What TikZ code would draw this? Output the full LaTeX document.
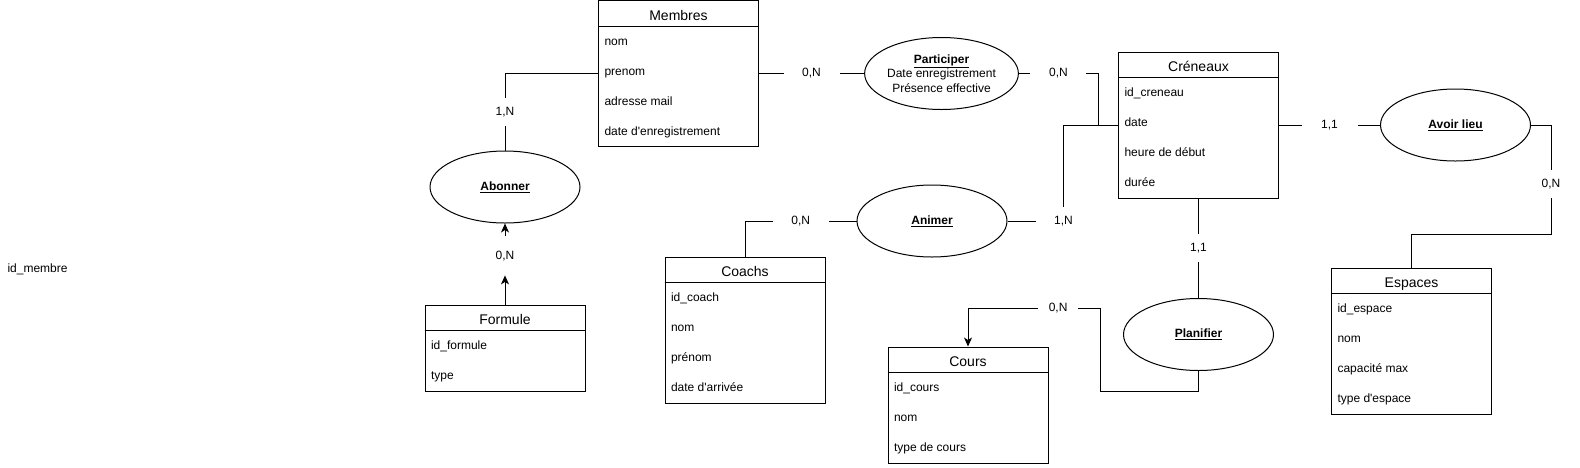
\documentclass[tikz,border=0pt]{standalone}
\usepackage{fontspec}
\setmainfont{Liberation Sans}
\usepackage{tikz}
\usetikzlibrary{shapes.geometric,arrows.meta,positioning,calc}
\tikzset{entite/.style={draw,rectangle,minimum width=160pt,inner sep=0pt},
	titre/.style={anchor=base,inner sep=0pt,font=\fontsize{14}{16}\selectfont},
	attribut/.style={anchor=base west,inner sep=0pt,font=\fontsize{12}{14}\selectfont},
	asso/.style={draw,ellipse,minimum width=150pt,minimum height=72pt,inner sep=0pt,
		align=center,font=\fontsize{12}{14.5}\selectfont},
	card/.style={fill=white,minimum width=56pt,minimum height=28pt,inner sep=0pt,
		font=\fontsize{12}{14}\selectfont},
	fleche/.style={-{Stealth[length=9pt,width=8pt,inset=2.5pt]}}}

\begin{document}
\begin{tikzpicture}
	[x=1pt,y=-1pt,line width=1pt]
	\useasboundingbox (0,0) rectangle (1580,467);

	% entites
	\node [entite,minimum height=146pt] (membres) at (678.5,73.5) {};
	\node [titre] (membresTitre) at ([yshift=-20pt]membres.north) {Membres};
	\draw ([yshift=-26pt]membres.north west) -- ([yshift=-26pt]membres.north east);
	\foreach \a [count=\i] in {nom,prenom,adresse mail,date d\textquotesingle enregistrement}
		\node [attribut] (membres\i) at ([xshift=6pt,yshift={-15pt-30pt*\i}]membres.north west) {\a};

	\node [entite,minimum height=146pt] (creneaux) at (1198.5,125) {};
	\node [titre] (creneauxTitre) at ([yshift=-20pt]creneaux.north) {Créneaux};
	\draw ([yshift=-26pt]creneaux.north west) -- ([yshift=-26pt]creneaux.north east);
	\foreach \a [count=\i] in {id\_creneau,date,heure de début,durée}
		\node [attribut] (creneaux\i) at ([xshift=6pt,yshift={-15pt-30pt*\i}]creneaux.north west) {\a};

	\node [entite,minimum height=86pt] (formule) at (505,348) {};
	\node [titre] (formuleTitre) at ([yshift=-20pt]formule.north) {Formule};
	\draw ([yshift=-26pt]formule.north west) -- ([yshift=-26pt]formule.north east);
	\foreach \a [count=\i] in {id\_formule,type}
		\node [attribut] (formule\i) at ([xshift=6pt,yshift={-15pt-30pt*\i}]formule.north west) {\a};

	\node [entite,minimum height=146pt] (coachs) at (745,330) {};
	\node [titre] (coachsTitre) at ([yshift=-20pt]coachs.north) {Coachs};
	\draw ([yshift=-26pt]coachs.north west) -- ([yshift=-26pt]coachs.north east);
	\foreach \a [count=\i] in {id\_coach,nom,prénom,date d\textquotesingle arrivée}
		\node [attribut] (coachs\i) at ([xshift=6pt,yshift={-15pt-30pt*\i}]coachs.north west) {\a};

	\node [entite,minimum height=116pt] (cours) at (968,405) {};
	\node [titre] (coursTitre) at ([yshift=-20pt]cours.north) {Cours};
	\draw ([yshift=-26pt]cours.north west) -- ([yshift=-26pt]cours.north east);
	\foreach \a [count=\i] in {id\_cours,nom,type de cours}
		\node [attribut] (cours\i) at ([xshift=6pt,yshift={-15pt-30pt*\i}]cours.north west) {\a};

	\node [entite,minimum height=146pt] (espaces) at (1411.5,341) {};
	\node [titre] (espacesTitre) at ([yshift=-20pt]espaces.north) {Espaces};
	\draw ([yshift=-26pt]espaces.north west) -- ([yshift=-26pt]espaces.north east);
	\foreach \a [count=\i] in {id\_espace,nom,capacité max,type d\textquotesingle espace}
		\node [attribut] (espaces\i) at ([xshift=6pt,yshift={-15pt-30pt*\i}]espaces.north west) {\a};

	\node [attribut] (idmembre) at (7,272) {id\_membre};

	% associations
	\node [asso] (abonner) at (505,187) {\textbf{\underline{Abonner}}};
	\node [asso] (participer) at (941.5,73.5) {\textbf{\underline{Participer}}\\Date enregistrement\\Présence effective};
	\node [asso] (animer) at (932,221) {\textbf{\underline{Animer}}};
	\node [asso] (planifier) at (1198.5,334.5) {\textbf{\underline{Planifier}}};
	\node [asso] (avoirlieu) at (1455.5,125) {\textbf{\underline{Avoir lieu}}};

	% liens
	\draw (membres.west) -| (abonner.north) node [card,pos=0.75] {1,N};
	\node [card,minimum height=38pt] (cardFormule) at ($(formule.north)!0.6!(abonner.south)$) {0,N};
	\draw [fleche] (formule.north) -- (cardFormule.south);
	\draw [fleche] (cardFormule.north) -- (abonner.south);
	\draw (membres.east) -- (participer.west) node [card,midway] {0,N};
	\draw (creneaux.west) -- ++(-20,0) |- (participer.east) node [card,pos=0.75] {0,N};
	\draw (creneaux.west) -- ++(-54.5,0) |- (animer.east) node [card,pos=0.5] {1,N};
	\draw (coachs.north) |- (animer.west) node [card,pos=0.75] {0,N};
	\draw (creneaux.south) -- (planifier.north) node [card,midway] {1,1};
	\draw [fleche] (planifier.south) |- ++(-98,20) -- ++(0,-83) -| (cours.north)
		node [card,minimum width=40pt,pos=0.16] {0,N};
	\draw (creneaux.east) -- (avoirlieu.west) node [card,midway] {1,1};
	\draw (avoirlieu.east) -| ++(20,109) node [card,pos=0.77] {0,N} -| (espaces.north);
\end{tikzpicture}
\end{document}
